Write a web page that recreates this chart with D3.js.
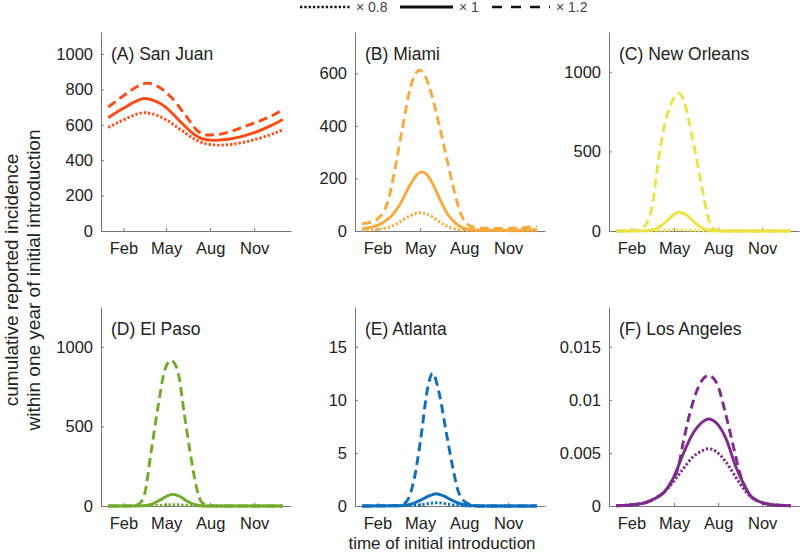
<!DOCTYPE html>
<html>
<head>
<meta charset="utf-8">
<script src="https://cdn.jsdelivr.net/npm/d3@7"></script>
<style>
  html, body { margin: 0; padding: 0; background: #fff; }
  svg { display: block; font-family: "Liberation Sans", Arial, Helvetica, sans-serif; }
</style>
</head>
<body>
<svg id="chart" width="800" height="554"></svg>
<script>
// ---------------- data ----------------
const monthTicks = [32, 121, 213, 305];
const monthLabels = ["Feb", "May", "Aug", "Nov"];
const scaleLabels = ["\u00d7 0.8", "\u00d7 1", "\u00d7 1.2"];

const cityNames = ["(A) San Juan", "(B) Miami", "(C) New Orleans", "(D) El Paso", "(E) Atlanta", "(F) Los Angeles"];
const cityColors = ["#FF4A14", "#F9AA3C", "#EAE246", "#72AB2C", "#0F6FBF", "#7D2B8C"];
const yMaxes = [1124, 757, 1250, 1250, 18.75, 0.01875];
const yTicks = [
  [0, 200, 400, 600, 800, 1000],
  [0, 200, 400, 600],
  [0, 500, 1000],
  [0, 500, 1000],
  [0, 5, 10, 15],
  [0, 0.005, 0.01, 0.015]
];

// [day of year of introduction, cumulative reported incidence]
const sanJuanLow  = [[0,585],[30,625],[60,660],[75,668],[90,663],[120,630],[150,575],[180,520],[200,496],[230,485],[260,490],[290,505],[320,527],[345,550],[365,572]];
const sanJuanBase = [[0,640],[30,690],[60,735],[75,748],[90,742],[120,700],[150,620],[180,545],[200,518],[220,512],[250,518],[280,535],[310,560],[340,595],[365,630]];
const sanJuanHigh = [[0,700],[30,760],[60,815],[80,835],[100,822],[130,760],[160,660],[185,570],[205,542],[230,545],[260,565],[290,595],[320,625],[345,655],[365,685]];

const miamiLow  = [[0,3],[40,8],[70,25],[100,58],[122,70],[145,55],[170,25],[195,7],[220,2],[365,1]];
const miamiBase = [[0,10],[20,15],[40,28],[60,55],[80,105],[100,175],[115,215],[125,225],[135,215],[150,170],[165,110],[180,60],[195,30],[210,12],[230,5],[260,3],[300,3],[340,4],[365,5]];
const miamiHigh = [[0,28],[20,35],[40,60],[55,120],[70,250],[85,400],[100,540],[112,600],[120,612],[130,595],[145,520],[160,410],[175,290],[190,170],[205,70],[220,25],[240,12],[270,10],[300,10],[330,12],[365,18]];

const newOrleansLow  = [[0,0],[90,2],[130,8],[170,2],[200,0],[365,0]];
const newOrleansBase = [[0,0],[50,1],[70,5],[90,25],[110,75],[125,112],[132,118],[145,105],[160,65],[175,28],[190,8],[210,1],[230,0],[365,0]];
const newOrleansHigh = [[0,0],[40,3],[55,20],[65,55],[75,150],[87,420],[100,650],[115,800],[130,865],[140,830],[150,720],[163,530],[175,340],[188,140],[198,30],[210,5],[230,0],[365,0]];

const elPasoLow  = [[0,0],[100,3],[135,8],[170,3],[200,0],[365,0]];
const elPasoBase = [[0,0],[70,1],[90,10],[110,40],[125,65],[135,73],[150,60],[165,30],[180,10],[195,2],[210,0],[365,0]];
const elPasoHigh = [[0,0],[50,0],[65,15],[76,74],[90,347],[104,620],[118,852],[131,915],[145,852],[159,579],[173,305],[185,110],[195,25],[210,3],[230,0],[365,0]];

const atlantaLow  = [[0,0],[110,0.05],[155,0.3],[200,0.05],[230,0],[365,0]];
const atlantaBase = [[0,0],[80,0.02],[100,0.15],[120,0.5],[140,0.95],[155,1.15],[170,0.95],[185,0.6],[200,0.3],[215,0.1],[235,0.02],[260,0],[365,0]];
const atlantaHigh = [[0,0],[80,0.05],[94,0.5],[108,2.4],[122,6.2],[136,10.9],[147,12.5],[161,10.6],[175,7.1],[189,3.7],[200,1.5],[212,0.5],[230,0.1],[250,0],[365,0]];

const losAngelesLow  = [[0,0.00003],[60,0.0003],[100,0.0013],[120,0.0023],[140,0.0035],[160,0.0046],[180,0.0052],[193,0.0054],[210,0.0051],[230,0.0041],[250,0.0027],[265,0.0017],[280,0.0009],[300,0.0004],[330,0.0001],[365,0.00003]];
const losAngelesBase = [[0,0.00003],[30,0.0001],[60,0.0003],[80,0.0007],[100,0.0013],[120,0.0027],[140,0.0049],[160,0.0068],[180,0.0079],[193,0.0082],[210,0.0078],[230,0.0063],[250,0.0037],[265,0.0022],[280,0.001],[300,0.0004],[330,0.0001],[365,0.00003]];
const losAngelesHigh = [[0,0.00003],[30,0.0001],[60,0.0003],[80,0.0007],[100,0.0013],[115,0.0022],[130,0.0037],[141,0.0062],[158,0.0094],[176,0.0116],[193,0.0123],[210,0.0116],[228,0.0088],[245,0.0056],[259,0.003],[275,0.0013],[295,0.0005],[330,0.0001],[365,0.00003]];

const citySeries = [
  [sanJuanLow, sanJuanBase, sanJuanHigh],
  [miamiLow, miamiBase, miamiHigh],
  [newOrleansLow, newOrleansBase, newOrleansHigh],
  [elPasoLow, elPasoBase, elPasoHigh],
  [atlantaLow, atlantaBase, atlantaHigh],
  [losAngelesLow, losAngelesBase, losAngelesHigh]
];

// ---------------- layout / style ----------------
const colLeft = [101, 355, 609];
const rowTop = [32, 307];
const panelW = 190, panelH = 199;
const dashStyles = ["2.3,2", null, "9,5"];
const axisColor = "#777";
const textColor = "#222";

const svg = d3.select("#chart");

citySeries.forEach((series, i) => {
  const col = i % 3, row = Math.floor(i / 3);
  const g = svg.append("g").attr("transform", `translate(${colLeft[col]},${rowTop[row]})`);
  const x = d3.scaleLinear().domain([-15, 382]).range([0, panelW]);
  const y = d3.scaleLinear().domain([0, yMaxes[i]]).range([panelH, 0]);

  const fmt = v => v === 0 ? "0" : d3.format("~g")(v);

  const yAxis = g.append("g").call(d3.axisLeft(y).tickValues(yTicks[i]).tickFormat(fmt).tickSizeInner(-3).tickSizeOuter(0).tickPadding(8));
  const xAxis = g.append("g").attr("transform", `translate(0,${panelH})`)
    .call(d3.axisBottom(x).tickValues(monthTicks).tickFormat((d, k) => monthLabels[k]).tickSizeInner(-3).tickSizeOuter(0).tickPadding(11));
  [yAxis, xAxis].forEach(a => {
    a.select(".domain").attr("stroke", axisColor).attr("stroke-width", 1);
    a.selectAll(".tick line").attr("stroke", axisColor);
    a.selectAll(".tick text").attr("fill", textColor).style("font-size", "16.5px").style("font-family", "'Liberation Sans', Arial, sans-serif");
  });

  const line = d3.line().x(d => x(d[0])).y(d => y(d[1])).curve(d3.curveMonotoneX);
  series.forEach((s, k) => {
    g.append("path").datum(s)
      .attr("d", line)
      .attr("fill", "none")
      .attr("stroke", cityColors[i])
      .attr("stroke-width", 2.9)
      .attr("stroke-dasharray", dashStyles[k]);
  });

  g.append("text").attr("x", 10).attr("y", 28)
    .attr("fill", textColor).style("font-size", "17.5px")
    .text(cityNames[i]);
});

// y label
const yl = svg.append("text").attr("transform", "translate(0,280) rotate(-90)")
  .attr("text-anchor", "middle").attr("fill", textColor).style("font-size", "19px");
yl.append("tspan").attr("x", 0).attr("y", 18).text("cumulative reported incidence");
yl.append("tspan").attr("x", 0).attr("y", 40).text("within one year of initial introduction");

// x label
svg.append("text").attr("x", 442).attr("y", 549).attr("text-anchor", "middle")
  .attr("fill", textColor).style("font-size", "17px").text("time of initial introduction");

// legend
const legendX = [300, 400, 492];
const legendLen = [50, 53, 58];
const legendDash = ["2.3,2", null, "10,9"];
const lg = svg.append("g");
scaleLabels.forEach((lab, k) => {
  lg.append("line").attr("x1", legendX[k]).attr("x2", legendX[k] + legendLen[k])
    .attr("y1", 7).attr("y2", 7).attr("stroke", "#111").attr("stroke-width", k === 1 ? 3.2 : 2.6)
    .attr("stroke-dasharray", legendDash[k]);
  lg.append("text").attr("x", legendX[k] + legendLen[k] + 6).attr("y", 12)
    .attr("fill", "#444").style("font-size", "14px").text(lab);
});
</script>
</body>
</html>
